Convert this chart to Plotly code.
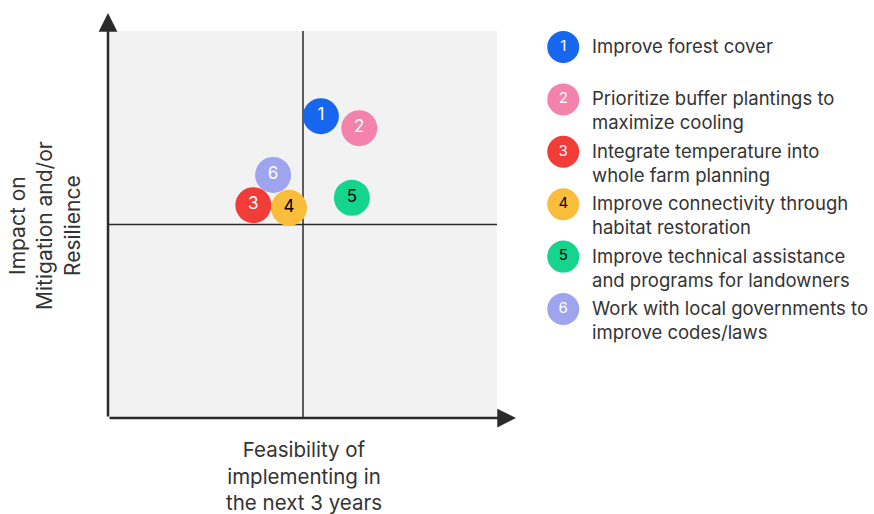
"""Feasibility vs impact quadrant chart for climate strategies."""

import plotly.graph_objects as go

# Strategy data
ids = ["1", "2", "3", "4", "5", "6"]
strategies = [
    "Improve forest cover",
    "Prioritize buffer plantings to<br>maximize cooling",
    "Integrate temperature into<br>whole farm planning",
    "Improve connectivity through<br>habitat restoration",
    "Improve technical assistance<br>and programs for landowners",
    "Work with local governments to<br>improve codes/laws",
]
feasibility = [5.46, 6.45, 3.72, 4.64, 6.26, 4.23]
impact = [7.80, 7.49, 5.50, 5.43, 5.69, 6.28]
colors = ["#1766f0", "#f383ab", "#f23c37", "#fabd3b", "#14d48e", "#9ea4ee"]
text_colors = ["white", "white", "white", "black", "black", "white"]
legend_rank = [1, 2, 3, 4, 5, 6]

W, H = 874, 514
FONT = "Inter"
INK = "#2b2b2b"
TEXT = "#333333"

fig = go.Figure()

# Quadrant bubbles
fig.add_trace(
    go.Scatter(
        x=feasibility,
        y=impact,
        mode="markers+text",
        text=ids,
        textposition="middle center",
        textfont=dict(family=FONT, size=17, color=text_colors),
        marker=dict(size=36, color=colors, line=dict(width=0)),
        hoverinfo="skip",
        xaxis="x",
        yaxis="y",
    )
)

# Legend markers on their own axes
fig.add_trace(
    go.Scatter(
        x=[0] * len(ids),
        y=legend_rank,
        mode="markers+text",
        text=ids,
        textposition="middle center",
        textfont=dict(family=FONT, size=15, color=text_colors),
        marker=dict(size=32, color=colors, line=dict(width=0)),
        hoverinfo="skip",
        xaxis="x2",
        yaxis="y2",
    )
)

annotations = []
for rank, label in zip(legend_rank, strategies):
    annotations.append(
        dict(
            x=0.69,
            y=rank,
            xref="x2",
            yref="y2",
            text=label,
            showarrow=False,
            xanchor="left",
            yanchor="top",
            yshift=14,
            align="left",
            font=dict(family=FONT, size=18.5, color=TEXT),
        )
    )

# Axis titles
annotations.append(
    dict(
        x=304 / W,
        y=1 - 476 / H,
        xref="paper",
        yref="paper",
        text="Feasibility of<br>implementing in<br>the next 3 years",
        showarrow=False,
        xanchor="center",
        yanchor="middle",
        font=dict(family=FONT, size=20.5, color=TEXT),
    )
)
annotations.append(
    dict(
        x=45 / W,
        y=1 - 226 / H,
        xref="paper",
        yref="paper",
        text="Impact on<br>Mitigation and/or<br>Resilience",
        textangle=-90,
        showarrow=False,
        xanchor="center",
        yanchor="middle",
        font=dict(family=FONT, size=21, color=TEXT),
    )
)

# Axis arrows
annotations.append(
    dict(
        x=108 / W, y=1 - 13 / H, xref="paper", yref="paper",
        ax=0, ay=405, showarrow=True, arrowhead=2, arrowsize=1.5,
        arrowwidth=2.5, arrowcolor=INK, text="",
    )
)
annotations.append(
    dict(
        x=516 / W, y=1 - 418 / H, xref="paper", yref="paper",
        ax=-408, ay=0, showarrow=True, arrowhead=2, arrowsize=1.5,
        arrowwidth=2.5, arrowcolor=INK, text="",
    )
)

# Quadrant background and dividers
shapes = [
    dict(type="rect", xref="x domain", yref="y domain", x0=0, x1=1, y0=0, y1=1,
         fillcolor="#f2f2f2", line=dict(width=0), layer="below"),
    dict(type="line", xref="x", yref="y", x0=5, x1=5, y0=0, y1=10,
         line=dict(color=INK, width=1.5), layer="below"),
    dict(type="line", xref="x", yref="y", x0=0, x1=10, y0=5, y1=5,
         line=dict(color=INK, width=1.5), layer="below"),
]

hidden = dict(showgrid=False, zeroline=False, showticklabels=False, ticks="",
              showline=False, fixedrange=True)

fig.update_layout(
    width=W,
    height=H,
    margin=dict(l=0, r=0, t=0, b=0),
    paper_bgcolor="white",
    plot_bgcolor="white",
    showlegend=False,
    xaxis=dict(domain=[109 / W, 497 / W], range=[0, 10], anchor="y", **hidden),
    yaxis=dict(domain=[96 / H, 483 / H], range=[0, 10], anchor="x", **hidden),
    xaxis2=dict(domain=[0.6, 1.0], range=[-1, 8], anchor="y2", **hidden),
    yaxis2=dict(domain=[0, 1], range=[9.912, 0.103], anchor="x2", **hidden),
    annotations=annotations,
    shapes=shapes,
)

fig.write_html(
    "out.html",
    config={"displayModeBar": False},
    post_script="document.body.style.margin='0';document.body.style.overflow='hidden';",
)
